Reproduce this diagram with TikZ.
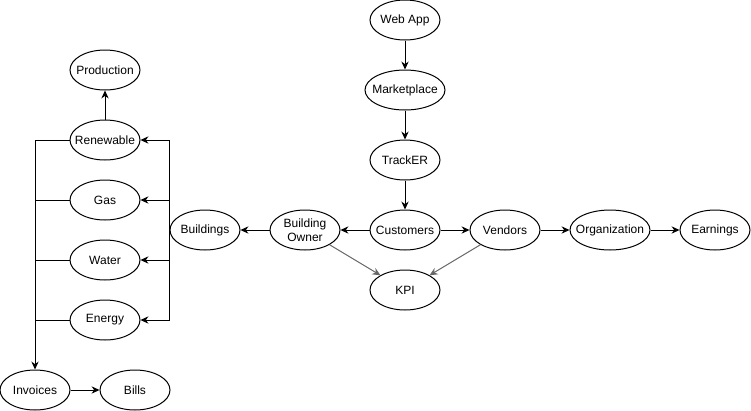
\documentclass[tikz,border=0pt]{standalone}
\usepackage{fontspec}
\setmainfont{Liberation Sans}
\usetikzlibrary{shapes.geometric,arrows.meta}

\begin{document}
\begin{tikzpicture}[x=0.75pt,y=-0.75pt,
  blob/.style={draw,ellipse,line width=0.75pt,inner sep=0pt,minimum width=52.5pt,minimum height=30pt,
    label={[font=\fontsize{9}{10.5}\selectfont,align=center,inner sep=0pt]center:#1}},
  wideblob/.style={blob=#1,minimum width=60pt},
  link/.style={line width=0.75pt,-{Stealth[length=6pt,width=5.5pt,inset=2pt]}},
  graylink/.style={link,draw=black!60}]

\useasboundingbox (0,0) rectangle (751,411);

% Main column
\node[blob=Web App] (webapp) at (405,20) {};
\node[wideblob=Marketplace] (market) at (405,90) {};
\node[blob=TrackER] (tracker) at (405,160) {};
\node[blob=Customers] (customers) at (405,230) {};

% Middle row
\node[blob={Building\\Owner}] (owner) at (305,230) {};
\node[blob=Buildings] (buildings) at (205,230) {};
\node[blob=Vendors] (vendors) at (505,230) {};
\node[wideblob=Organization] (org) at (610,230) {};
\node[blob=Earnings] (earnings) at (715,230) {};
\node[blob=KPI] (kpi) at (405,290) {};

% Utilities
\node[blob=Production] (production) at (105,70) {};
\node[blob=Renewable] (renewable) at (105,140) {};
\node[blob=Gas] (gas) at (105,200) {};
\node[blob=Water] (water) at (105,260) {};
\node[blob=Energy] (energy) at (105,320) {};

% Billing
\node[blob=Invoices] (invoices) at (35,390) {};
\node[blob=Bills] (bills) at (135,390) {};

\draw[link] (webapp) -- (market);
\draw[link] (market) -- (tracker);
\draw[link] (tracker) -- (customers);
\draw[link] (customers) -- (owner);
\draw[link] (customers) -- (vendors);
\draw[link] (owner) -- (buildings);
\draw[link] (vendors) -- (org);
\draw[link] (org) -- (earnings);

\draw[graylink] (owner) -- (kpi);
\draw[graylink] (vendors) -- (kpi);

\draw[link] (buildings.west) |- (renewable.east);
\draw[link] (buildings.west) |- (gas.east);
\draw[link] (buildings.west) |- (water.east);
\draw[link] (buildings.west) |- (energy.east);

\draw[link] (renewable) -- (production);

\draw[link] (renewable.west) -| (invoices.north);
\draw[line width=0.75pt] (gas.west) -- (gas.west -| invoices.north);
\draw[line width=0.75pt] (water.west) -- (water.west -| invoices.north);
\draw[line width=0.75pt] (energy.west) -- (energy.west -| invoices.north);

\draw[link] (invoices) -- (bills);

\end{tikzpicture}
\end{document}
